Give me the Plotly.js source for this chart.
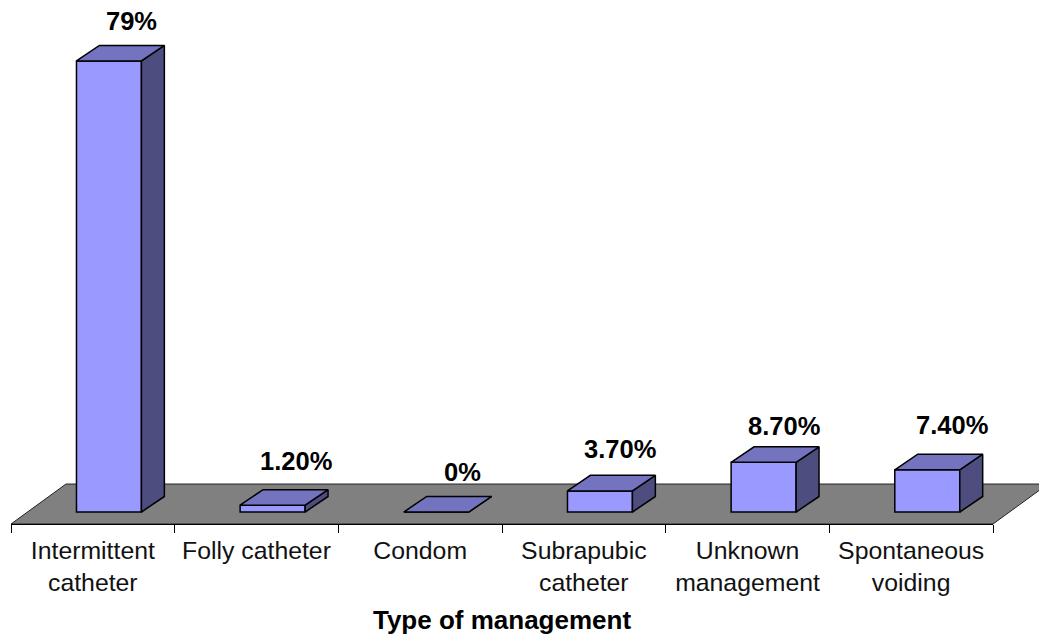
<!DOCTYPE html>
<html>
<head>
<meta charset="utf-8">
<script src="https://cdn.plot.ly/plotly-3.0.0.min.js"></script>
<style>html,body{margin:0;padding:0;background:#fff}#c{width:1039px;height:638px}</style>
</head>
<body>
<div id="c"></div>
<script>
const categories = ["Intermittent<br>catheter", "Folly catheter", "Condom", "Subrapubic<br>catheter", "Unknown<br>management", "Spontaneous<br>voiding"];
const values = [79, 1.2, 0, 3.7, 8.7, 7.4];
const valueLabels = ["79%", "1.20%", "0%", "3.70%", "8.70%", "7.40%"];
const axisTitle = "Type of management";

// chart geometry, in axis units
const barOffset = -0.1, barWidth = 0.397;
const depthX = 0.14, depthY = 2.72;
const floorFrontY = -2.1;
const yMax = 89.67;
const labelNudgeX = [0, 0, 3, -3, -3, 2];
const labelLift = [24, 29, 24, 26, 21, 29];

const positions = categories.map((_, i) => i);
const tx = [], ty = [], sx = [], sy = [];
values.forEach((v, i) => {
  const l = i + barOffset, r = l + barWidth;
  tx.push(l, r, r + depthX, l + depthX, l, null);
  ty.push(v, v, v + depthY, v + depthY, v, null);
  sx.push(r, r + depthX, r + depthX, r, r, null);
  sy.push(0, depthY, v + depthY, v, 0, null);
});

const traces = [
  {type: "bar", x: positions, y: values, base: 0,
   width: values.map(() => barWidth), offset: values.map(() => barOffset),
   marker: {color: "#9999FF", line: {color: "#000", width: 1.5}},
   hoverinfo: "y", showlegend: false},
  {type: "scatter", mode: "lines", x: sx, y: sy, fill: "toself", fillcolor: "#4D4D80",
   line: {color: "#000", width: 1.5}, hoverinfo: "skip", showlegend: false, cliponaxis: false},
  {type: "scatter", mode: "lines", x: tx, y: ty, fill: "toself", fillcolor: "#7373BF",
   line: {color: "#000", width: 1.5}, hoverinfo: "skip", showlegend: false, cliponaxis: false}
];

const layout = {
  width: 1039, height: 638,
  margin: {l: 10.5, r: 45.5, t: 0, b: 114},
  paper_bgcolor: "#fff", plot_bgcolor: "rgba(0,0,0,0)",
  showlegend: false, barmode: "overlay",
  font: {family: "Liberation Sans, Arial, sans-serif", color: "#000"},
  xaxis: {
    type: "linear", range: [-0.5, 5.5],
    tickmode: "array", tickvals: positions, ticktext: categories,
    ticks: "", ticklabelstandoff: 4,
    minor: {tick0: -0.5, dtick: 1, ticks: "outside", ticklen: 8, tickwidth: 1, tickcolor: "#000", showgrid: false},
    showline: true, linecolor: "#000", linewidth: 1, showgrid: false, zeroline: false,
    tickangle: 0, tickfont: {size: 24.8, color: "#111"},
    title: {text: "<b>" + axisTitle + "</b>", font: {size: 26, color: "#000"}, standoff: 15},
    automargin: false
  },
  yaxis: {range: [floorFrontY, yMax], visible: false, fixedrange: true},
  shapes: [{type: "path", path: "M 0 0 L 1 0 L 1.056 0.0763 L 0.056 0.0763 Z", xref: "paper", yref: "paper", layer: "below",
            fillcolor: "#808080", line: {color: "#222", width: 1}}],
  annotations: values.map((v, i) => ({
    x: i + barOffset + barWidth / 2 + depthX, y: v + depthY, xref: "x", yref: "y",
    text: "<b>" + valueLabels[i] + "</b>", showarrow: false,
    xanchor: "center", yanchor: "middle", xshift: labelNudgeX[i], yshift: labelLift[i],
    font: {size: 25.5, color: "#000"}
  }))
};

Plotly.newPlot("c", traces, layout, {displayModeBar: false});
</script>
</body>
</html>
